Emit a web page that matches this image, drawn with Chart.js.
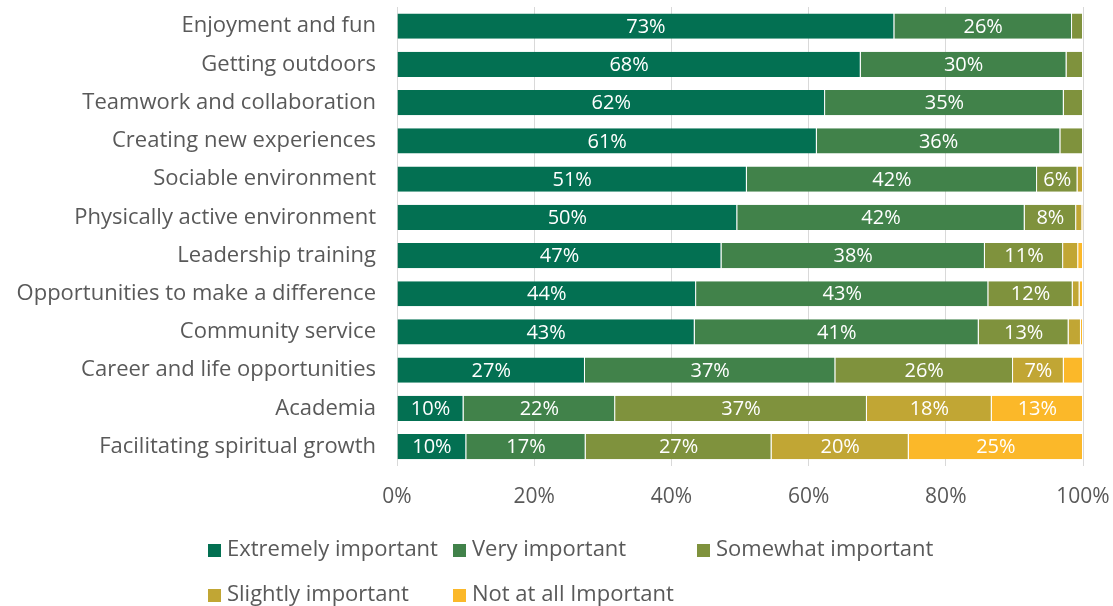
<!DOCTYPE html>
<html>
<head>
<meta charset="utf-8">
<script src="https://cdn.jsdelivr.net/npm/chart.js@4/dist/chart.umd.min.js"></script>
<style>
  html, body { margin: 0; padding: 0; background: #fff; }
  #wrap { width: 1113px; height: 606px; }
</style>
</head>
<body>
<div id="wrap"><canvas id="bars"></canvas></div>
<script>
let categories = ['Enjoyment and fun', 'Getting outdoors', 'Teamwork and collaboration', 'Creating new experiences',
  'Sociable environment', 'Physically active environment', 'Leadership training', 'Opportunities to make a difference',
  'Community service', 'Career and life opportunities', 'Academia', 'Facilitating spiritual growth'];

let extremely = [72.5, 67.6, 62.4, 61.2, 51.0, 49.6, 47.3, 43.6, 43.4, 27.4, 9.7, 10.1];
let very      = [25.9, 30.0, 34.8, 35.5, 42.3, 41.9, 38.4, 42.6, 41.4, 36.5, 22.1, 17.4];
let somewhat  = [1.6, 2.4, 2.8, 3.3, 5.9, 7.5, 11.4, 12.3, 13.1, 25.9, 36.7, 27.1];
let slightly  = [0, 0, 0, 0, 0.8, 0.9, 2.2, 1.0, 1.8, 7.4, 18.2, 20.0];
let notAtAll  = [0, 0, 0, 0, 0, 0.1, 0.7, 0.5, 0.3, 2.8, 13.3, 25.4];

let seriesNames = ['Extremely important', 'Very important', 'Somewhat important', 'Slightly important', 'Not at all Important'];
let seriesColors = ['#037052', '#41824A', '#7F923D', '#C1A634', '#FBB829'];
let xTicks = [0, 20, 40, 60, 80, 100];

let textColor = '#595959';
let fontFamily = '"Open Sans", Lato, sans-serif';

// white % labels in the middle of each segment, skip the tiny ones
let segmentLabels = {
  id: 'segmentLabels',
  afterDatasetsDraw(chart) {
    let ctx = chart.ctx;
    ctx.save();
    ctx.fillStyle = '#fff';
    ctx.font = '20px ' + fontFamily;
    ctx.textAlign = 'center';
    ctx.textBaseline = 'middle';
    chart.data.datasets.forEach((ds, i) => {
      let meta = chart.getDatasetMeta(i);
      meta.data.forEach((bar, j) => {
        let v = ds.data[j];
        if (v < 4.5) return;
        ctx.fillText(Math.round(v) + '%', (bar.x + bar.base) / 2, bar.y + 1);
      });
    });
    ctx.restore();
  }
};

// legend laid out in fixed columns like the original
let gridLegend = {
  id: 'gridLegend',
  afterDraw(chart) {
    let ctx = chart.ctx;
    let cols = [208, 453, 697];
    let rows = [550, 595];
    ctx.save();
    ctx.font = '22px ' + fontFamily;
    ctx.textBaseline = 'middle';
    chart.data.datasets.forEach((ds, i) => {
      let x = cols[i % 3];
      let y = rows[Math.floor(i / 3)];
      ctx.fillStyle = ds.backgroundColor;
      ctx.fillRect(x, y - 6, 13, 13);
      ctx.fillStyle = textColor;
      ctx.fillText(ds.label, x + 19, y);
    });
    ctx.restore();
  }
};

let datasets = [extremely, very, somewhat, slightly, notAtAll].map((d, i) => ({
  label: seriesNames[i],
  data: d,
  backgroundColor: seriesColors[i],
  borderColor: 'rgba(255,255,255,0.45)',
  borderWidth: { right: 1 },
  borderSkipped: false,
  barPercentage: 0.66,
  categoryPercentage: 1
}));

new Chart(document.getElementById('bars'), {
  type: 'bar',
  data: { labels: categories, datasets: datasets },
  plugins: [segmentLabels, gridLegend],
  options: {
    indexAxis: 'y',
    responsive: true,
    maintainAspectRatio: false,
    animation: false,
    layout: { padding: { top: 7, right: 30, bottom: 77, left: 0 } },
    plugins: { legend: { display: false }, tooltip: { enabled: false } },
    scales: {
      x: {
        stacked: true,
        min: 0,
        max: 100,
        afterBuildTicks: (axis) => { axis.ticks = xTicks.map(v => ({ value: v })); },
        afterFit: (axis) => { axis.paddingLeft = 0; axis.paddingRight = 0; },
        ticks: { color: textColor, font: { size: 21, family: fontFamily }, padding: 19, callback: v => v + '%' },
        grid: { color: '#d9d9d9', lineWidth: 1, drawTicks: false },
        border: { display: false }
      },
      y: {
        stacked: true,
        afterFit: (axis) => { axis.width = 397; axis.paddingTop = 0; axis.paddingBottom = 0; },
        ticks: { color: textColor, font: { size: 22, family: fontFamily }, padding: 13 },
        grid: { display: false },
        border: { display: false }
      }
    }
  }
});
</script>
</body>
</html>
